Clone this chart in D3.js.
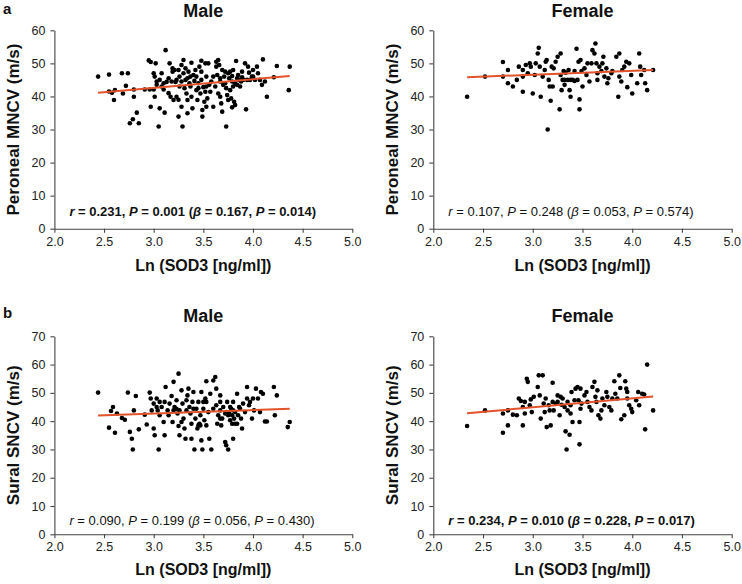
<!DOCTYPE html>
<html><head><meta charset="utf-8">
<script src="https://cdn.jsdelivr.net/npm/d3@7"></script>
<style>
html,body{margin:0;padding:0;background:#fff;}
svg{display:block;font-family:Arial,"Liberation Sans",Helvetica,sans-serif;}
</style></head>
<body><svg id="chart" width="742" height="584"></svg>
<script>
// ---- data ----
const xTicks = [2.0, 2.5, 3.0, 3.5, 4.0, 4.5, 5.0];
const yTicksPeroneal = [0, 10, 20, 30, 40, 50, 60];
const yTicksSural = [0, 10, 20, 30, 40, 50, 60, 70];
const panelLetters = ["a", "b"];
const sexTitles = ["Male", "Female"];
const xLabel = "Ln (SOD3 [ng/ml])";
const yLabels = ["Peroneal MNCV (m/s)", "Sural SNCV (m/s)"];

const peronealMale = [
[2.44,46.0],[2.55,46.6],[2.55,41.5],[2.58,41.1],[2.61,41.9],[2.60,38.9],[2.68,47.0],[2.74,47.0],[2.72,43.2],[2.69,40.9],
[2.80,39.9],[2.80,42.1],[2.76,31.9],[2.79,33.1],[2.83,35.1],[2.85,31.9],[2.95,50.9],[2.97,50.4],[3.02,50.0],[2.91,42.1],
[2.96,42.1],[3.00,42.1],[2.97,36.9],[3.01,39.9],[3.05,30.9],[3.06,36.4],[3.11,35.1],[3.12,54.0],[3.00,47.0],[3.01,46.0],
[3.08,47.0],[3.03,43.5],[3.08,43.0],[3.10,44.0],[3.13,44.4],[3.15,45.5],[3.10,42.1],[3.18,44.5],[3.19,48.5],[3.21,48.0],
[3.20,38.9],[3.23,45.0],[3.25,48.0],[3.26,46.0],[3.26,43.0],[3.25,33.9],[3.28,36.9],[3.29,30.9],[3.30,51.0],[3.30,47.0],
[3.31,42.5],[3.32,45.0],[3.33,40.9],[3.34,38.9],[3.34,34.9],[3.35,47.5],[3.37,46.0],[3.37,43.0],[3.38,50.2],[3.38,39.9],
[3.39,36.4],[3.41,44.7],[3.42,48.0],[3.43,41.9],[3.43,46.0],[3.44,38.9],[3.45,44.0],[3.46,49.0],[3.47,40.9],[3.48,50.8],
[3.48,45.0],[3.49,35.9],[3.49,33.9],[3.50,42.8],[3.51,38.4],[3.52,50.0],[3.53,46.0],[3.53,43.0],[3.54,39.4],[3.55,50.0],
[3.56,43.5],[3.57,41.4],[3.60,36.9],[3.62,43.0],[3.63,50.5],[3.63,49.0],[3.64,46.5],[3.65,51.0],[3.66,49.5],[3.67,45.5],
[3.67,44.5],[3.67,39.9],[3.68,37.9],[3.69,35.4],[3.69,48.0],[3.70,43.5],[3.71,46.0],[3.72,44.0],[3.73,30.9],[3.73,42.5],
[3.74,40.4],[3.75,47.0],[3.76,45.5],[3.77,41.9],[3.78,39.4],[3.79,46.2],[3.79,44.5],[3.80,48.0],[3.81,38.4],[3.82,37.4],
[3.83,50.7],[3.84,45.5],[3.84,43.5],[3.85,46.5],[3.86,45.0],[3.88,44.5],[3.89,45.8],[3.90,45.0],[3.92,50.0],[3.93,36.1],
[3.94,45.0],[3.95,49.0],[3.97,45.0],[3.99,46.0],[4.00,48.0],[4.02,45.0],[4.04,49.0],[4.05,47.0],[4.07,45.0],[4.09,43.5],
[4.10,51.2],[4.12,44.5],[4.14,39.9],[4.21,45.8],[4.24,49.2],[4.36,41.9],[4.37,49.0],[3.19,47.5],[3.22,44.4],[3.28,44.5],
[3.32,48.5],[3.34,45.5],[3.36,44.0],[3.40,46.5],[3.45,42.5],[3.48,47.5],[3.58,44.5],[3.60,46.0],[3.72,47.5],[3.77,47.5],
[3.80,43.0],[3.82,44.0],[3.87,43.0],[3.89,47.5],[3.96,47.2],[4.00,46.0],[3.15,41.0],[3.17,39.9],[3.23,39.9],[3.25,39.0],
[3.06,45.0],[3.03,44.5],[3.52,41.4],[3.53,36.9],[3.65,40.9],[3.75,38.9],[3.79,36.7],[3.16,50.0],[3.28,49.5]
];
const peronealFemale = [
[2.34,39.9],[2.52,46.0],[2.70,50.4],[2.70,46.0],[2.75,48.0],[2.75,44.0],[2.80,43.0],[2.84,45.0],[2.86,49.0],[2.90,48.0],
[2.90,46.0],[2.90,41.4],[2.93,49.5],[2.95,47.0],[2.97,50.0],[2.98,49.0],[3.00,40.9],[3.02,46.5],[3.03,50.0],[3.05,53.0],
[3.06,54.7],[3.07,49.0],[3.08,39.9],[3.10,46.0],[3.12,48.0],[3.13,50.5],[3.14,51.0],[3.15,30.0],[3.16,45.0],[3.17,43.0],
[3.18,38.7],[3.19,49.0],[3.20,43.0],[3.21,48.5],[3.23,50.5],[3.25,52.0],[3.27,36.1],[3.28,53.0],[3.28,46.5],[3.29,41.9],
[3.30,45.0],[3.31,47.7],[3.32,45.0],[3.33,47.2],[3.35,45.0],[3.36,48.0],[3.37,41.9],[3.38,39.9],[3.38,45.0],[3.40,45.0],
[3.42,47.7],[3.44,54.4],[3.45,45.0],[3.46,50.5],[3.47,39.1],[3.47,36.1],[3.48,51.0],[3.49,47.7],[3.50,43.0],[3.52,48.5],
[3.55,50.0],[3.57,44.5],[3.59,50.0],[3.60,54.0],[3.62,53.0],[3.63,56.0],[3.64,50.0],[3.65,47.0],[3.65,45.0],[3.67,49.0],
[3.69,47.7],[3.70,50.0],[3.71,52.0],[3.72,46.0],[3.75,44.0],[3.76,45.5],[3.79,47.0],[3.80,47.7],[3.84,52.0],[3.86,39.9],
[3.87,53.0],[3.87,46.0],[3.90,48.0],[3.92,49.0],[3.94,50.5],[3.95,42.8],[3.97,50.0],[3.99,46.5],[4.00,40.9],[4.05,44.0],
[4.07,53.0],[4.09,46.5],[4.12,48.0],[4.13,44.0],[4.15,41.9],[4.21,48.0],[4.08,49.0],[3.32,43.5],[3.42,44.7],[3.54,46.5],
[3.74,48.5],[3.89,44.5]
];
const suralMale = [
[2.44,50.1],[2.55,37.7],[2.57,43.6],[2.59,45.0],[2.61,35.9],[2.63,42.7],[2.68,41.1],[2.71,40.5],[2.74,50.1],[2.76,36.2],
[2.78,33.8],[2.79,30.0],[2.80,43.8],[2.82,48.9],[2.85,37.1],[2.91,42.3],[2.93,38.8],[2.96,50.1],[2.97,48.0],[2.98,43.8],
[3.00,46.2],[3.00,37.4],[3.01,35.0],[3.04,43.8],[3.05,30.0],[3.06,46.8],[3.08,45.0],[3.10,39.7],[3.11,35.0],[3.12,52.1],
[3.14,43.8],[3.16,46.2],[3.18,48.9],[3.19,39.7],[3.20,53.9],[3.21,45.0],[3.23,47.4],[3.24,42.7],[3.25,38.3],[3.25,56.8],
[3.26,35.0],[3.28,50.9],[3.29,46.2],[3.30,40.9],[3.31,37.4],[3.32,33.8],[3.33,43.8],[3.34,49.1],[3.35,51.5],[3.36,45.0],
[3.37,42.7],[3.38,39.1],[3.39,46.8],[3.40,50.3],[3.41,30.0],[3.42,40.9],[3.43,44.4],[3.44,37.4],[3.45,46.8],[3.46,39.1],
[3.47,42.1],[3.48,33.2],[3.48,50.3],[3.49,30.0],[3.50,44.4],[3.51,40.3],[3.52,48.0],[3.53,54.1],[3.53,38.5],[3.55,43.2],
[3.56,33.8],[3.57,49.7],[3.58,30.0],[3.60,54.4],[3.62,55.6],[3.63,45.6],[3.63,51.5],[3.64,39.1],[3.65,42.1],[3.67,49.1],
[3.67,43.8],[3.68,38.5],[3.69,40.9],[3.70,45.0],[3.72,32.6],[3.73,31.5],[3.73,43.2],[3.74,46.8],[3.75,30.0],[3.76,42.7],
[3.77,40.3],[3.78,44.4],[3.79,42.1],[3.80,33.8],[3.80,46.8],[3.81,40.9],[3.82,43.2],[3.84,49.7],[3.84,39.1],[3.86,45.0],
[3.88,40.9],[3.90,46.2],[3.92,43.2],[3.94,52.1],[3.94,48.0],[3.97,46.8],[3.99,40.9],[4.01,43.8],[4.03,51.5],[4.05,48.0],
[4.07,43.2],[4.08,50.3],[4.10,49.7],[4.12,39.9],[4.14,39.9],[4.21,52.1],[4.22,42.1],[4.24,49.1],[4.35,37.9],[4.37,39.7],
[3.03,48.0],[3.11,46.8],[3.15,42.1],[3.20,43.8],[3.26,43.8],[3.33,47.4],[3.38,33.8],[3.40,44.4],[3.45,38.5],[3.47,38.5],
[3.53,46.8],[3.67,40.9],[3.72,42.7],[3.75,42.1],[3.77,45.0],[3.80,43.8],[3.82,39.1],[3.85,42.1],[3.89,37.4],[3.96,45.6],
[4.00,48.0],[3.03,45.0],[3.06,42.1],[3.23,44.4],[3.28,39.7],[3.50,46.8],[3.60,44.4],[3.67,46.8],[3.79,39.1],[3.87,44.4]
];
const suralFemale = [
[2.34,38.3],[2.52,43.8],[2.70,42.7],[2.70,35.9],[2.75,43.8],[2.75,38.5],[2.80,42.3],[2.84,42.1],[2.86,48.0],[2.88,47.1],
[2.90,45.0],[2.90,38.5],[2.92,46.8],[2.92,42.7],[2.94,55.0],[2.95,53.9],[2.97,45.6],[2.98,47.7],[2.99,43.2],[3.01,48.6],
[3.05,52.1],[3.06,56.2],[3.07,49.1],[3.08,40.9],[3.10,56.2],[3.11,46.2],[3.12,43.2],[3.13,48.0],[3.14,37.9],[3.16,45.6],
[3.17,43.8],[3.18,38.5],[3.20,53.6],[3.21,43.8],[3.23,46.2],[3.25,49.1],[3.25,46.8],[3.27,42.1],[3.28,48.6],[3.29,45.8],
[3.30,48.0],[3.32,45.0],[3.33,36.4],[3.34,30.0],[3.35,43.8],[3.37,35.2],[3.38,42.7],[3.39,50.3],[3.40,39.7],[3.42,47.4],
[3.43,51.5],[3.45,52.1],[3.46,47.4],[3.47,39.7],[3.47,31.8],[3.48,51.5],[3.49,46.2],[3.52,49.1],[3.54,50.3],[3.55,46.8],
[3.57,45.0],[3.59,43.8],[3.60,52.1],[3.62,53.9],[3.63,48.6],[3.64,46.8],[3.65,50.9],[3.66,42.1],[3.68,40.9],[3.69,43.8],
[3.70,48.0],[3.72,45.6],[3.74,50.3],[3.75,48.6],[3.77,45.0],[3.79,43.8],[3.80,48.0],[3.82,54.1],[3.83,49.7],[3.85,48.0],
[3.87,56.2],[3.88,51.7],[3.89,40.7],[3.92,42.1],[3.93,54.1],[3.94,51.5],[3.95,50.3],[3.95,48.0],[3.97,45.6],[3.99,44.4],
[4.00,43.2],[4.04,47.4],[4.06,50.3],[4.07,45.6],[4.10,49.7],[4.12,49.4],[4.13,37.1],[4.15,60.0],[4.21,43.8],[3.35,46.8],
[3.38,45.6],[3.48,44.4],[3.20,46.8]
];

// regression line endpoints
const fitPeronealMale   = [[2.44,41.1],[4.37,46.2]];
const fitPeronealFemale = [[2.34,45.8],[4.21,48.0]];
const fitSuralMale      = [[2.44,42.0],[4.37,44.4]];
const fitSuralFemale    = [[2.34,42.8],[4.21,48.7]];

// statistics annotation: [r, P, beta, Pbeta, significant]
const statsPeronealMale   = ["0.231","0.001","0.167","0.014", true];
const statsPeronealFemale = ["0.107","0.248","0.053","0.574", false];
const statsSuralMale      = ["0.090","0.199","0.056","0.430", false];
const statsSuralFemale    = ["0.234","0.010","0.228","0.017", true];

// ---- drawing ----
const svg = d3.select("#chart");
const RED = "#e2532b";

const panels = [
  {pts: peronealMale, fit: fitPeronealMale, st: statsPeronealMale, yMax: 60, yT: yTicksPeroneal, yl: yLabels[0], title: sexTitles[0], letter: panelLetters[0],
   xr:[54.4,352.3], yr:[228.7,30.3], titleY:17, letterY:14, xlabY:271},
  {pts: peronealFemale, fit: fitPeronealFemale, st: statsPeronealFemale, yMax: 60, yT: yTicksPeroneal, yl: yLabels[0], title: sexTitles[1], letter: null,
   xr:[433.3,731.7], yr:[228.7,30.3], titleY:17, letterY:14, xlabY:271},
  {pts: suralMale, fit: fitSuralMale, st: statsSuralMale, yMax: 70, yT: yTicksSural, yl: yLabels[1], title: sexTitles[0], letter: panelLetters[1],
   xr:[54.4,352.3], yr:[534.3,336.3], titleY:322, letterY:318, xlabY:575},
  {pts: suralFemale, fit: fitSuralFemale, st: statsSuralFemale, yMax: 70, yT: yTicksSural, yl: yLabels[1], title: sexTitles[1], letter: null,
   xr:[433.3,731.7], yr:[534.3,336.3], titleY:322, letterY:318, xlabY:575}
];

panels.forEach(p => {
  const x = d3.scaleLinear().domain([2, 5]).range(p.xr);
  const y = d3.scaleLinear().domain([0, p.yMax]).range(p.yr);
  const g = svg.append("g");

  const xAxis = g.append("g").attr("transform", `translate(0,${p.yr[0]})`)
    .call(d3.axisBottom(x).tickValues(xTicks).tickFormat(d3.format(".1f")).tickSize(4).tickSizeOuter(0).tickPadding(4));
  const yAxis = g.append("g").attr("transform", `translate(${p.xr[0]},0)`)
    .call(d3.axisLeft(y).tickValues(p.yT).tickFormat(d3.format("d")).tickSize(4).tickSizeOuter(0).tickPadding(5));
  [xAxis, yAxis].forEach(a => {
    a.selectAll("path,line").attr("stroke", "#444").attr("stroke-width", 1.1);
    a.selectAll("text").attr("fill", "#222").style("font-size", "12.5px").style("font-family", "Arial, 'Liberation Sans', sans-serif");
  });

  // points
  g.append("g").selectAll("circle").data(p.pts).join("circle")
    .attr("cx", d => x(d[0])).attr("cy", d => y(d[1])).attr("r", 2.3).attr("fill", "#000");

  // regression line
  g.append("path").datum(p.fit)
    .attr("d", d3.line().x(d => x(d[0])).y(d => y(d[1])))
    .attr("stroke", RED).attr("stroke-width", 2).attr("fill", "none");

  // title
  const cx = (p.xr[0] + p.xr[1]) / 2;
  g.append("text").attr("x", cx).attr("y", p.titleY).attr("text-anchor", "middle")
    .style("font-size", "18px").style("font-weight", "bold").attr("fill", "#111").text(p.title);
  if (p.letter) {
    g.append("text").attr("x", 3).attr("y", p.letterY)
      .style("font-size", "15px").style("font-weight", "bold").attr("fill", "#111").text(p.letter);
  }
  // x label
  g.append("text").attr("x", cx).attr("y", p.xlabY).attr("text-anchor", "middle")
    .style("font-size", "16px").style("font-weight", "bold").attr("fill", "#111").text(xLabel);
  // y label
  const cy = (p.yr[0] + p.yr[1]) / 2;
  g.append("text").attr("transform", `translate(${p.xr[0] - 35},${cy}) rotate(-90)`).attr("text-anchor", "middle")
    .style("font-size", "17px").style("font-weight", "bold").attr("fill", "#111").text(p.yl);

  // stats annotation
  const st = p.st;
  const t = g.append("text").attr("x", p.xr[0] + 15).attr("y", y(0) - (p.yMax === 60 ? 12.5 : 9.8))
    .style("font-size", "13px").style("font-weight", st[4] ? "bold" : "normal").attr("fill", "#111");
  const parts = [["r", true], [" = " + st[0] + ", ", false], ["P", true], [" = " + st[1] + " (", false],
                 ["β", true], [" = " + st[2] + ", ", false], ["P", true], [" = " + st[3] + ")", false]];
  parts.forEach(([s, it]) => t.append("tspan").style("font-style", it ? "italic" : "normal").text(s));
});
</script>
</body></html>
